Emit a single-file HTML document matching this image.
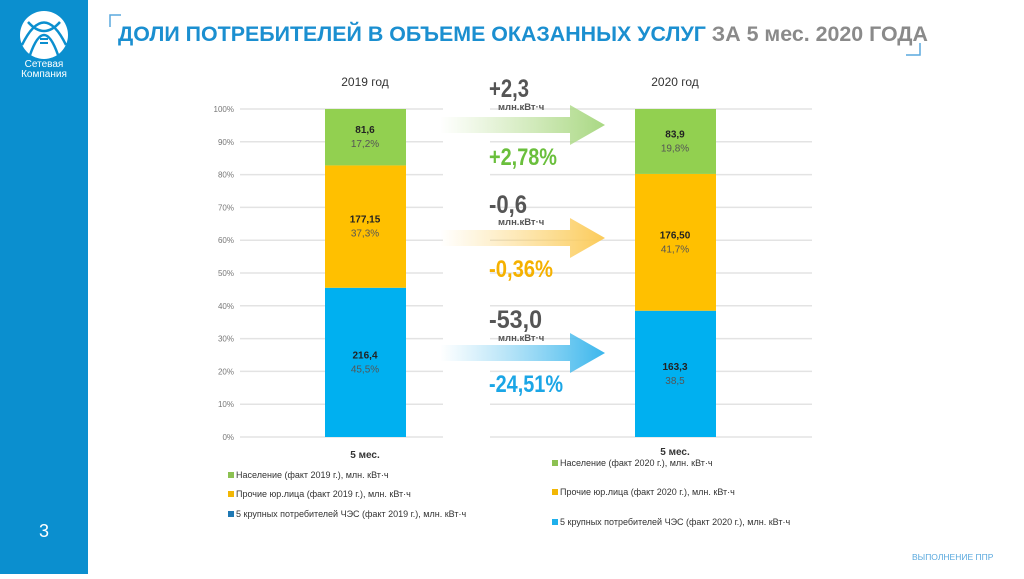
<!DOCTYPE html>
<html><head><meta charset="utf-8"><style>
body{margin:0;width:1024px;height:574px;overflow:hidden;background:#fff;font-family:"Liberation Sans",sans-serif}
svg text{font-family:"Liberation Sans",sans-serif}
</style></head><body>
<svg id="c" width="1024" height="574" viewBox="0 0 1024 574" xmlns="http://www.w3.org/2000/svg">
<defs>
<linearGradient id="gG" x1="0" x2="1"><stop offset="0" stop-color="#b5dc8c" stop-opacity="0"/><stop offset="1" stop-color="#a9d883"/></linearGradient>
<linearGradient id="gY" x1="0" x2="1"><stop offset="0" stop-color="#fcd36e" stop-opacity="0"/><stop offset="1" stop-color="#fbcb5a"/></linearGradient>
<linearGradient id="gB" x1="0" x2="1"><stop offset="0" stop-color="#5ec3ef" stop-opacity="0"/><stop offset="1" stop-color="#3bb6ec"/></linearGradient>
</defs>
<rect x="0" y="0" width="88" height="574" fill="#0b8fcf"/>
<g>
<circle cx="44" cy="35" r="24" fill="#fff"/>
<path d="M22 45 Q44 0 66 45 M28 22 Q44 40 60 22 M30 55 Q44 15 58 55" stroke="#0b8fcf" stroke-width="2.5" fill="none"/>
<rect x="40" y="38" width="8" height="2" fill="#0b8fcf"/><rect x="40" y="42" width="8" height="2" fill="#0b8fcf"/>
<text x="44" y="67" fill="#fff" font-size="10" text-anchor="middle">Сетевая</text>
<text x="44" y="77" fill="#fff" font-size="10" text-anchor="middle">Компания</text>
</g>
<text x="44" y="537" fill="#fff" font-size="18" text-anchor="middle">3</text>
<path d="M110 27 V15 H121" stroke="#5aa9de" stroke-width="1.5" fill="none"/>
<path d="M920 43 V55 H906" stroke="#5aa9de" stroke-width="1.5" fill="none"/>
<text x="118" y="41" font-size="21" font-weight="bold" fill="#1b8fd0" textLength="810" lengthAdjust="spacingAndGlyphs">ДОЛИ ПОТРЕБИТЕЛЕЙ В ОБЪЕМЕ ОКАЗАННЫХ УСЛУГ <tspan fill="#8a8a8a">ЗА 5 мес. 2020 ГОДА</tspan></text>
<text x="912" y="560" font-size="8.5" fill="#5aa9de">ВЫПОЛНЕНИЕ ППР</text>
<g id="grid"></g><g id="bars"></g>
<g>
<path d="M440 117 H570 V105 L605 125 L570 145 V133 H440Z" fill="url(#gG)"/>
<path d="M440 230 H570 V218 L605 238 L570 258 V246 H440Z" fill="url(#gY)"/>
<path d="M440 345 H570 V333 L605 353 L570 373 V361 H440Z" fill="url(#gB)"/>
<g font-weight="bold" fill="#555">
<text x="489" y="97" font-size="25" textLength="40" lengthAdjust="spacingAndGlyphs">+2,3</text><text x="498" y="110" font-size="9.5">млн.кВт·ч</text>
<text x="489" y="213" font-size="25" textLength="38" lengthAdjust="spacingAndGlyphs">-0,6</text><text x="498" y="225" font-size="9.5">млн.кВт·ч</text>
<text x="489" y="328" font-size="25" textLength="53" lengthAdjust="spacingAndGlyphs">-53,0</text><text x="498" y="341" font-size="9.5">млн.кВт·ч</text>
</g>
<text x="489" y="165" font-size="24" font-weight="bold" fill="#6abf3c" textLength="68" lengthAdjust="spacingAndGlyphs">+2,78%</text>
<text x="489" y="277" font-size="24" font-weight="bold" fill="#f5b100" textLength="64" lengthAdjust="spacingAndGlyphs">-0,36%</text>
<text x="489" y="392" font-size="24" font-weight="bold" fill="#1ba6e6" textLength="74" lengthAdjust="spacingAndGlyphs">-24,51%</text>
</g>
<g font-size="9" fill="#333">
<rect x="228" y="472" width="6" height="6" fill="#8cc152"/><text x="236" y="478">Население (факт 2019 г.), млн. кВт·ч</text>
<rect x="228" y="491" width="6" height="6" fill="#f2b705"/><text x="236" y="497">Прочие юр.лица (факт 2019 г.), млн. кВт·ч</text>
<rect x="228" y="511" width="6" height="6" fill="#1f78b4"/><text x="236" y="517">5 крупных потребителей ЧЭС (факт 2019 г.), млн. кВт·ч</text>
<rect x="552" y="460" width="6" height="6" fill="#8cc152"/><text x="560" y="466">Население (факт 2020 г.), млн. кВт·ч</text>
<rect x="552" y="489" width="6" height="6" fill="#f2b705"/><text x="560" y="495">Прочие юр.лица (факт 2020 г.), млн. кВт·ч</text>
<rect x="552" y="519" width="6" height="6" fill="#1fb0ec"/><text x="560" y="525">5 крупных потребителей ЧЭС (факт 2020 г.), млн. кВт·ч</text>
</g>
</svg>
<script>
const years=["2019 год","2020 год"];
const segNames=["blue","yellow","green"];
const valsB=["216,4","163,3"];
const valsY=["177,15","176,50"];
const valsG=["81,6","83,9"];
const pctB=[45.5,38.5];
const pctY=[37.3,41.7];
const pctG=[17.2,19.8];
const pctLabB=["45,5%","38,5"];
const pctLabY=["37,3%","41,7%"];
const pctLabG=["17,2%","19,8%"];
const ticks=[0,10,20,30,40,50,60,70,80,90,100];
const NS="http://www.w3.org/2000/svg";
const y0=437,ppx=3.28;
const Y=v=>y0-v*ppx;
const charts=[{gx0:240,gx1:443,bx:325,tx:365,axis:true},{gx0:490,gx1:812,bx:635,tx:675,axis:false}];
const grid=document.getElementById('grid'),bars=document.getElementById('bars');
function el(t,a,p){const e=document.createElementNS(NS,t);for(const k in a)e.setAttribute(k,a[k]);p.appendChild(e);return e;}
charts.forEach((c,i)=>{
 ticks.forEach(t=>{
  const l=el('line',{x1:c.gx0,x2:c.gx1,y1:Y(t),y2:Y(t),stroke:'#e3e3e3','stroke-width':1.5},grid);
  
  
  if(c.axis){const tx=el('text',{x:234,y:Y(t)+3,'font-size':8,fill:'#777','text-anchor':'end'},grid);tx.textContent=t+'%';
  
  }
 });
 const ti=el('text',{x:c.tx,y:86,'font-size':12,fill:'#333','text-anchor':'middle'},bars);ti.textContent=years[i];
 
 
 const xl=el('text',{x:c.tx,y:i?455:458,'font-size':10,'font-weight':'bold',fill:'#333','text-anchor':'middle'},bars);xl.textContent='5 мес.';
 
 
 const segs=[[pctB[i],'#00b0f0',valsB[i],pctLabB[i]],[pctY[i],'#ffc000',valsY[i],pctLabY[i]],[pctG[i],'#92d050',valsG[i],pctLabG[i]]];
 let cum=0;
 segs.forEach((s,j)=>{
  const top=Y(cum+s[0]),bot=Y(cum);
  const r=el('rect',{x:c.bx,y:top,width:81,height:bot-top,fill:s[1]},bars);
  
  
  const m=(top+bot)/2;
  const v=el('text',{x:c.tx,y:m-4,'font-size':10,'font-weight':'bold',fill:'#222','text-anchor':'middle'},bars);v.textContent=s[2];
  
  
  const p=el('text',{x:c.tx,y:m+10,'font-size':10,fill:'#555','text-anchor':'middle'},bars);p.textContent=s[3];
  
  
  cum+=s[0];
 });
});
</script>
</body></html>
